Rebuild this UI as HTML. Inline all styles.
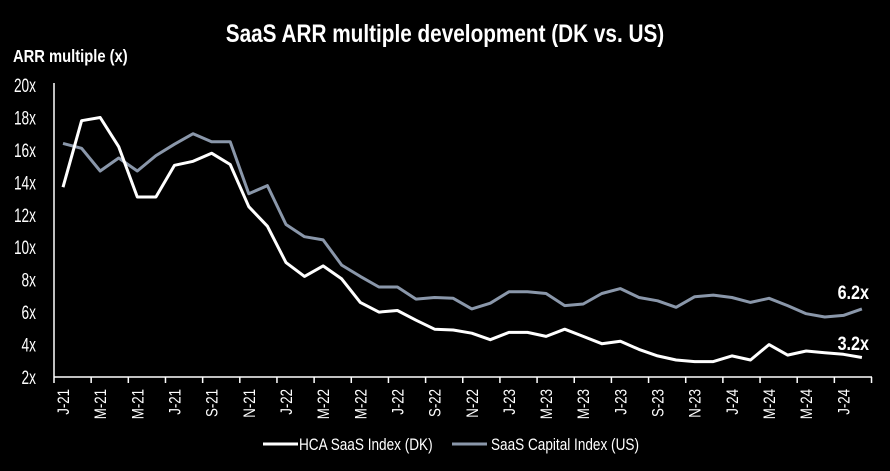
<!DOCTYPE html>
<html><head><meta charset="utf-8"><style>
html,body{margin:0;padding:0;background:#000;width:890px;height:471px;overflow:hidden}
svg{display:block}
text{font-family:"Liberation Sans",sans-serif;fill:#fff}
</style></head><body>
<svg id="s" width="890" height="471" viewBox="0 0 890 471" xmlns="http://www.w3.org/2000/svg">
<text x="445" y="42" text-anchor="middle" font-size="25" font-weight="bold" transform="translate(445 0) scale(0.83 1) translate(-445 0)">SaaS ARR multiple development (DK vs. US)</text>
<text x="13" y="62" font-size="18" font-weight="bold" transform="translate(13 0) scale(0.82 1) translate(-13 0)">ARR multiple (x)</text>
<line x1="54" y1="83" x2="54" y2="377" stroke="#fff" stroke-width="1.5"/>
<line x1="54" y1="377" x2="872" y2="377" stroke="#fff" stroke-width="1.5"/>
<g id="g"></g>
<text x="869" y="299" text-anchor="end" font-size="19" font-weight="bold" transform="translate(869 0) scale(0.85 1) translate(-869 0)">6.2x</text>
<text x="869" y="350" text-anchor="end" font-size="19" font-weight="bold" transform="translate(869 0) scale(0.85 1) translate(-869 0)">3.2x</text>
<line x1="263" y1="444" x2="298" y2="444" stroke="#fff" stroke-width="3"/>
<text x="299" y="450" font-size="17" transform="translate(299 0) scale(0.8 1) translate(-299 0)">HCA SaaS Index (DK)</text>
<line x1="452" y1="444" x2="487" y2="444" stroke="#8a97aa" stroke-width="3"/>
<text x="491" y="450" font-size="17" transform="translate(491 0) scale(0.8 1) translate(-491 0)">SaaS Capital Index (US)</text>
</svg>
<script>
var dk=[13.7,17.8,18.0,16.2,13.1,13.1,15.05,15.3,15.8,15.1,12.5,11.3,9.05,8.2,8.85,8.05,6.6,6.0,6.1,5.5,4.95,4.9,4.7,4.3,4.75,4.75,4.5,4.95,4.5,4.05,4.2,3.7,3.3,3.05,2.95,2.95,3.3,3.05,4.0,3.35,3.6,3.5,3.4,3.2];
var us=[16.4,16.1,14.7,15.5,14.7,15.65,16.35,17.0,16.5,16.5,13.3,13.8,11.4,10.65,10.45,8.9,8.2,7.55,7.55,6.8,6.9,6.85,6.2,6.55,7.25,7.25,7.15,6.4,6.5,7.15,7.45,6.9,6.7,6.3,6.95,7.05,6.9,6.6,6.85,6.4,5.9,5.7,5.8,6.2];
var NS="http://www.w3.org/2000/svg",g=document.getElementById('g');
function X(i){return 63+i*18.58}
function Y(v){return 377-(v-2)*16.22}
function el(t,a,txt){var e=document.createElementNS(NS,t);for(var k in a)e.setAttribute(k,a[k]);if(txt)e.textContent=txt;g.appendChild(e);return e}
for(var v=2;v<=20;v+=2){el('text',{x:36,y:Y(v)+7,'text-anchor':'end','font-size':19,transform:'translate(36 0) scale(0.72 1) translate(-36 0)'},v+'x')}
for(var k=0;k<=22;k++){var tx=54+k*37.16;el('line',{x1:tx,y1:377,x2:tx,y2:383,stroke:'#fff','stroke-width':1.5})}
var m=['J','M','M','J','S','N'];
for(var i=0;i<44;i+=2){var yr=21+Math.floor(i/12);var lab=m[(i%12)/2]+'-'+yr;var x=X(i)+6;
el('text',{x:0,y:0,'font-size':17,'text-anchor':'end',transform:'translate('+x+' 389) rotate(-90) scale(0.78 1)'},lab)}
function pl(d,c){var p=d.map(function(v,i){return X(i).toFixed(1)+','+Y(v).toFixed(1)}).join(' ');el('polyline',{points:p,fill:'none',stroke:c,'stroke-width':3,'stroke-linejoin':'round'})}
pl(us,'#8a97aa');pl(dk,'#ffffff');
</script>
</body></html>
